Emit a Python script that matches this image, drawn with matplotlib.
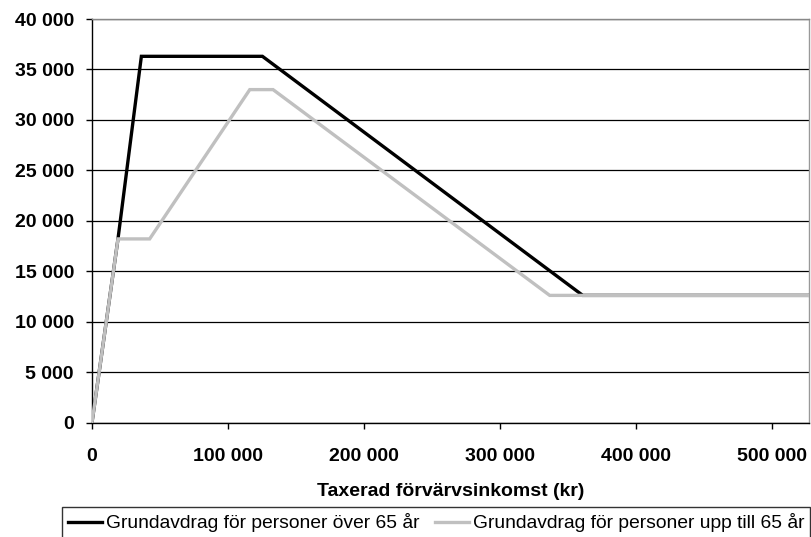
import matplotlib
matplotlib.use("Agg")
import matplotlib.pyplot as plt
from matplotlib.ticker import FuncFormatter, MultipleLocator

# Data
over65_x = [0, 19100, 36300, 125300, 360800, 530000]
over65_y = [0, 18200, 36300, 36300, 12600, 12600]
upto65_x = [0, 19100, 42400, 116000, 133100, 336500, 530000]
upto65_y = [0, 18200, 18200, 33000, 33000, 12600, 12600]

label_over = "Grundavdrag för personer över 65 år"
label_upto = "Grundavdrag för personer upp till 65 år"
xlabel = "Taxerad förvärvsinkomst (kr)"

plt.rcParams['font.family'] = ['Liberation Sans', 'DejaVu Sans']

W, H = 812, 537
fig = plt.figure(figsize=(W/100, H/100), dpi=100)
ax = fig.add_axes([92/W, 1-422.5/H, (809.5-92)/W, (422.5-19)/H])

ax.plot(over65_x, over65_y, color='black', lw=2.4, solid_joinstyle='miter', label=label_over, zorder=3)
ax.plot(upto65_x, upto65_y, color='#c0c0c0', lw=2.4, solid_joinstyle='miter', label=label_upto, zorder=4)

ax.set_xlim(0, 527500)
ax.set_ylim(0, 40000)
ax.xaxis.set_major_locator(MultipleLocator(100000))
ax.yaxis.set_major_locator(MultipleLocator(5000))
fmt = FuncFormatter(lambda v, p: f"{int(v):,}".replace(",", " "))
ax.xaxis.set_major_formatter(fmt)
ax.yaxis.set_major_formatter(fmt)

ax.grid(axis='y', color='black', lw=0.9)
ax.set_axisbelow(True)
ax.spines['top'].set_color('#888888')
ax.spines['top'].set_linewidth(1.0)
ax.spines['right'].set_color('#999999')
ax.spines['right'].set_linewidth(1.0)
ax.spines['left'].set_linewidth(1.0)
ax.spines['bottom'].set_linewidth(1.0)

ax.tick_params(axis='both', direction='out', length=4.5, width=1.0, color='black')
ax.tick_params(axis='y', pad=8.5)
ax.tick_params(axis='x', pad=14)
for t in ax.get_xticklabels() + ax.get_yticklabels():
    t.set_fontweight('bold')
    t.set_fontsize(14)

fig.text(451/W, 1-492/H, xlabel, fontsize=14, fontweight='bold', ha='center', va='center')

leg = fig.legend(loc='upper left', bbox_to_anchor=(62/W, 1-507/H),
                 ncol=2, frameon=True, fancybox=False, fontsize=13.9,
                 handlelength=1.75, handletextpad=0.2, columnspacing=0.8,
                 borderaxespad=0.0, borderpad=0.33)
leg.get_frame().set_edgecolor('black')
leg.get_frame().set_linewidth(1.0)

fig.savefig("out.png", dpi=100)
